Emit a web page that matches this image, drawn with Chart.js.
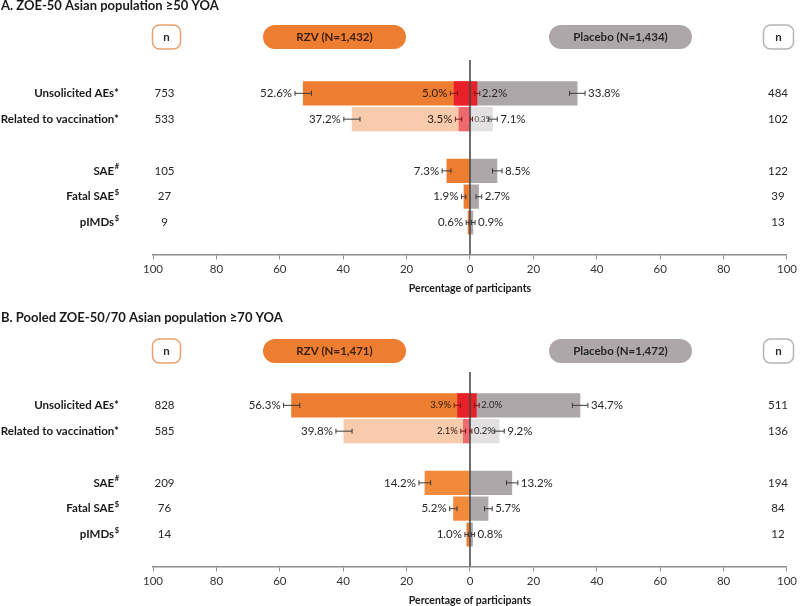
<!DOCTYPE html>
<html>
<head>
<meta charset="utf-8">
<script src="https://cdn.jsdelivr.net/npm/chart.js@4.4.0/dist/chart.umd.min.js"></script>
<style>
    html, body { margin: 0; padding: 0; background: #fff; overflow: hidden; }
    #wrap { position: relative; width: 800px; height: 606px; }
    canvas { position: absolute; left: 0; }
    #chartA { top: 0; }
    #chartB { top: 312px; }
</style>
</head>
<body>
<div id="wrap">
    <canvas id="chartA" width="800" height="312"></canvas>
    <canvas id="chartB" width="800" height="294"></canvas>
</div>
<script>
// rows of both panels (the empty one is the gap between the two groups)
const categories = ['Unsolicited AEs*', 'Related to vaccination*', '', 'SAE#', 'Fatal SAE$', 'pIMDs$'];
const axisTitle = 'Percentage of participants';

// panel A: ZOE-50, >=50 YOA
const aTitle = 'A. ZOE-50 Asian population \u226550 YOA';
const aRzvHeader = 'RZV (N=1,432)';
const aPlaHeader = 'Placebo (N=1,434)';
const aRzvN = [753, 533, null, 105, 27, 9];
const aPlaN = [484, 102, null, 122, 39, 13];
const aRzvPct = [52.6, 37.2, null, 7.3, 1.9, 0.6];
const aRzvLo = [50.0, 34.7, null, 6.0, 1.3, 0.3];
const aRzvHi = [55.2, 39.8, null, 8.8, 2.7, 1.2];
const aPlaPct = [33.8, 7.1, null, 8.5, 2.7, 0.9];
const aPlaLo = [31.4, 5.8, null, 7.1, 1.9, 0.5];
const aPlaHi = [36.3, 8.6, null, 10.1, 3.7, 1.6];
// grade 3 part
const aRzvG3 = [5.0, 3.5, null, null, null, null];
const aRzvG3Lo = [3.9, 2.6, null, null, null, null];
const aRzvG3Hi = [6.2, 4.6, null, null, null, null];
const aPlaG3 = [2.2, 0.3, null, null, null, null];
const aPlaG3Lo = [1.5, 0.1, null, null, null, null];
const aPlaG3Hi = [3.1, 0.8, null, null, null, null];

// panel B: pooled ZOE-50/70, >=70 YOA
const bTitle = 'B. Pooled ZOE-50/70 Asian population \u226570 YOA';
const bRzvHeader = 'RZV (N=1,471)';
const bPlaHeader = 'Placebo (N=1,472)';
const bRzvN = [828, 585, null, 209, 76, 14];
const bPlaN = [511, 136, null, 194, 84, 12];
const bRzvPct = [56.3, 39.8, null, 14.2, 5.2, 1.0];
const bRzvLo = [53.7, 37.2, null, 12.4, 4.1, 0.5];
const bRzvHi = [58.8, 42.3, null, 16.1, 6.4, 1.6];
const bPlaPct = [34.7, 9.2, null, 13.2, 5.7, 0.8];
const bPlaLo = [32.3, 7.8, null, 11.5, 4.6, 0.4];
const bPlaHi = [37.2, 10.8, null, 15.1, 7.0, 1.4];
const bRzvG3 = [3.9, 2.1, null, null, null, null];
const bRzvG3Lo = [3.0, 1.4, null, null, null, null];
const bRzvG3Hi = [5.0, 2.9, null, null, null, null];
const bPlaG3 = [2.0, 0.2, null, null, null, null];
const bPlaG3Lo = [1.4, 0.0, null, null, null, null];
const bPlaG3Hi = [2.9, 0.6, null, null, null, null];

const FONT = "Lato, 'Open Sans', sans-serif";
Chart.defaults.font.family = FONT;

const ORANGE = '#ED7D31';
const GREY = '#ADA7A9';

function roundRect(ctx, x, y, w, h, r) {
    ctx.beginPath();
    ctx.moveTo(x + r, y);
    ctx.lineTo(x + w - r, y);
    ctx.arc(x + w - r, y + r, r, -Math.PI / 2, 0);
    ctx.lineTo(x + w, y + h - r);
    ctx.arc(x + w - r, y + h - r, r, 0, Math.PI / 2);
    ctx.lineTo(x + r, y + h);
    ctx.arc(x + r, y + h - r, r, Math.PI / 2, Math.PI);
    ctx.lineTo(x, y + r);
    ctx.arc(x + r, y + r, r, Math.PI, Math.PI * 1.5);
    ctx.closePath();
}

function whisker(ctx, x1, x2, y, color) {
    ctx.save();
    ctx.strokeStyle = color;
    ctx.lineWidth = 1;
    ctx.beginPath();
    ctx.moveTo(x1, y); ctx.lineTo(x2, y);
    ctx.moveTo(x1, y - 2.5); ctx.lineTo(x1, y + 2.5);
    ctx.moveTo(x2, y - 2.5); ctx.lineTo(x2, y + 2.5);
    ctx.stroke();
    ctx.restore();
}

function toPoints(values, sign) {
    const pts = [];
    values.forEach((v, i) => {
        if (v !== null) pts.push({ y: i, x: sign * v });
    });
    return pts;
}

function makeChart(canvasId, panel) {
    const overlay = {
        id: 'overlay',
        afterDatasetsDraw(chart) {
            const ctx = chart.ctx;
            const xs = chart.scales.x;
            const ys = chart.scales.y;
            const area = chart.chartArea;
            const x0 = xs.getPixelForValue(0);

            // zero line over the bars
            ctx.save();
            ctx.strokeStyle = '#3f3f3f';
            ctx.lineWidth = 1.5;
            ctx.beginPath();
            ctx.moveTo(x0, area.top);
            ctx.lineTo(x0, area.bottom);
            ctx.stroke();
            ctx.restore();

            ctx.save();
            ctx.textBaseline = 'middle';
            categories.forEach((c, i) => {
                if (panel.rzvPct[i] === null) return;
                const y = ys.getPixelForValue(i);

                // all events
                whisker(ctx, xs.getPixelForValue(-panel.rzvLo[i]), xs.getPixelForValue(-panel.rzvHi[i]), y, '#3a3a3a');
                whisker(ctx, xs.getPixelForValue(panel.plaLo[i]), xs.getPixelForValue(panel.plaHi[i]), y, '#3a3a3a');
                ctx.fillStyle = '#262626';
                ctx.font = '11.5px ' + FONT;
                ctx.textAlign = 'right';
                ctx.fillText(panel.rzvPct[i].toFixed(1) + '%', xs.getPixelForValue(-panel.rzvHi[i]) - 3, y);
                ctx.textAlign = 'left';
                ctx.fillText(panel.plaPct[i].toFixed(1) + '%', xs.getPixelForValue(panel.plaHi[i]) + 3, y);

                // grade 3 events
                if (panel.rzvG3[i] !== null) {
                    whisker(ctx, xs.getPixelForValue(-panel.rzvG3Lo[i]), xs.getPixelForValue(-panel.rzvG3Hi[i]), y, '#7a1a1a');
                    whisker(ctx, xs.getPixelForValue(panel.plaG3Lo[i]), xs.getPixelForValue(panel.plaG3Hi[i]), y, '#7a1a1a');
                    ctx.fillStyle = '#2a1a10';
                    ctx.font = panel.g3RzvSize[i] + 'px ' + FONT;
                    ctx.textAlign = 'right';
                    ctx.fillText(panel.rzvG3[i].toFixed(1) + '%', xs.getPixelForValue(-panel.rzvG3Hi[i]) - 3, y);
                    ctx.font = panel.g3PlaSize[i] + 'px ' + FONT;
                    ctx.fillStyle = panel.g3PlaSize[i] < 9 ? '#555' : '#262626';
                    ctx.textAlign = 'left';
                    ctx.fillText(panel.plaG3[i].toFixed(1) + '%', xs.getPixelForValue(panel.plaG3Hi[i]) + 2, y);
                }
            });
            ctx.restore();
        },
        afterDraw(chart) {
            const ctx = chart.ctx;
            const xs = chart.scales.x;
            const ys = chart.scales.y;
            const area = chart.chartArea;
            ctx.save();
            ctx.textBaseline = 'middle';

            // panel title
            ctx.fillStyle = '#1a1a1a';
            ctx.font = 'bold 13px ' + FONT;
            ctx.textAlign = 'left';
            ctx.fillText(panel.title, 1, 6);

            // header pills
            const py = panel.pillY;
            roundRect(ctx, 152.5, py - 12, 28, 24, 7);
            ctx.fillStyle = '#fff';
            ctx.fill();
            ctx.strokeStyle = '#E8A070';
            ctx.lineWidth = 1.5;
            ctx.stroke();
            roundRect(ctx, 763.5, py - 12, 30, 24, 7);
            ctx.fill();
            ctx.strokeStyle = '#B5B5B5';
            ctx.stroke();
            roundRect(ctx, 263, py - 12, 143, 24, 12);
            ctx.fillStyle = ORANGE;
            ctx.fill();
            roundRect(ctx, 549, py - 12, 143, 24, 12);
            ctx.fillStyle = GREY;
            ctx.fill();

            ctx.textAlign = 'center';
            ctx.font = 'bold 11.5px ' + FONT;
            ctx.fillStyle = '#2b2b2b';
            ctx.fillText('n', 166.5, py);
            ctx.fillText('n', 778.5, py);
            ctx.fillStyle = '#3a1e0a';
            ctx.fillText(panel.rzvHeader, 334.5, py);
            ctx.fillStyle = '#262626';
            ctx.fillText(panel.plaHeader, 620.5, py);

            // row labels and n columns
            categories.forEach((c, i) => {
                if (!c) return;
                const y = ys.getPixelForValue(i);
                let main = c;
                let sup = '';
                if (c.endsWith('#') || c.endsWith('$')) {
                    main = c.slice(0, -1);
                    sup = c.slice(-1);
                }
                ctx.fillStyle = '#1a1a1a';
                ctx.textAlign = 'right';
                let right = 119;
                if (sup) {
                    ctx.font = 'bold 7.5px ' + FONT;
                    ctx.fillText(sup, right, y - 4);
                    right -= ctx.measureText(sup).width + 0.5;
                }
                ctx.font = 'bold 11.5px ' + FONT;
                ctx.fillText(main, right, y);

                ctx.font = '11.5px ' + FONT;
                ctx.fillStyle = '#262626';
                ctx.textAlign = 'center';
                ctx.fillText(String(panel.rzvN[i]), 164.5, y);
                ctx.fillText(String(panel.plaN[i]), 778, y);
            });

            // axis title
            ctx.fillStyle = '#1a1a1a';
            ctx.font = 'bold 10.5px ' + FONT;
            ctx.textAlign = 'center';
            ctx.fillText(axisTitle, xs.getPixelForValue(0), area.bottom + 34);
            ctx.restore();
        }
    };

    const el = document.getElementById(canvasId);
    return new Chart(el.getContext('2d'), {
        type: 'bar',
        data: {
            datasets: [
                {
                    label: 'RZV grade 3',
                    data: toPoints(panel.rzvG3, -1),
                    backgroundColor: c => panel.rzvG3Colors[c.raw.y],
                    order: 0
                },
                {
                    label: 'Placebo grade 3',
                    data: toPoints(panel.plaG3, 1),
                    backgroundColor: c => panel.plaG3Colors[c.raw.y],
                    order: 0
                },
                {
                    label: 'RZV',
                    data: toPoints(panel.rzvPct, -1),
                    backgroundColor: c => panel.rzvColors[c.raw.y],
                    order: 1
                },
                {
                    label: 'Placebo',
                    data: toPoints(panel.plaPct, 1),
                    backgroundColor: c => panel.plaColors[c.raw.y],
                    order: 1
                }
            ]
        },
        options: {
            indexAxis: 'y',
            responsive: false,
            animation: false,
            grouped: false,
            barThickness: 23.5,
            borderWidth: 0,
            layout: {
                padding: { left: 153, right: 10, top: 60, bottom: panel.height - 254.3 - 30 }
            },
            plugins: {
                legend: { display: false },
                tooltip: { enabled: false },
                title: { display: false }
            },
            scales: {
                x: {
                    type: 'linear',
                    min: -100,
                    max: 100,
                    afterFit: s => { s.height = 30; },
                    ticks: {
                        stepSize: 20,
                        padding: 3,
                        color: '#333',
                        font: { size: 11.5 },
                        callback: v => Math.abs(v)
                    },
                    grid: {
                        color: 'rgba(0,0,0,0)',
                        tickColor: '#8c8c8c',
                        tickLength: 5,
                        tickWidth: 1
                    },
                    border: { color: '#8c8c8c', width: 1.5 }
                },
                y: {
                    type: 'linear',
                    reverse: true,
                    min: -0.82,
                    max: 5.76,
                    display: false
                }
            }
        },
        plugins: [overlay]
    });
}

makeChart('chartA', {
    height: 312, pillY: 37,
    title: aTitle, rzvHeader: aRzvHeader, plaHeader: aPlaHeader,
    rzvN: aRzvN, plaN: aPlaN,
    rzvPct: aRzvPct, rzvLo: aRzvLo, rzvHi: aRzvHi,
    plaPct: aPlaPct, plaLo: aPlaLo, plaHi: aPlaHi,
    rzvG3: aRzvG3, rzvG3Lo: aRzvG3Lo, rzvG3Hi: aRzvG3Hi,
    plaG3: aPlaG3, plaG3Lo: aPlaG3Lo, plaG3Hi: aPlaG3Hi,
    g3RzvSize: [11.5, 11.5], g3PlaSize: [11.5, 8],
    rzvColors: [ORANGE, '#F8CBAD', null, ORANGE, ORANGE, ORANGE],
    plaColors: [GREY, '#E2E0E1', null, GREY, GREY, GREY],
    rzvG3Colors: ['#E8202A', '#EE6A6E'],
    plaG3Colors: ['#E8202A', '#D9D7D8']
});

makeChart('chartB', {
    height: 294, pillY: 39,
    title: bTitle, rzvHeader: bRzvHeader, plaHeader: bPlaHeader,
    rzvN: bRzvN, plaN: bPlaN,
    rzvPct: bRzvPct, rzvLo: bRzvLo, rzvHi: bRzvHi,
    plaPct: bPlaPct, plaLo: bPlaLo, plaHi: bPlaHi,
    rzvG3: bRzvG3, rzvG3Lo: bRzvG3Lo, rzvG3Hi: bRzvG3Hi,
    plaG3: bPlaG3, plaG3Lo: bPlaG3Lo, plaG3Hi: bPlaG3Hi,
    g3RzvSize: [9.5, 9.5], g3PlaSize: [9.5, 9.5],
    rzvColors: [ORANGE, '#F8CBAD', null, '#F28A3C', '#F28A3C', ORANGE],
    plaColors: [GREY, '#E2E0E1', null, GREY, GREY, GREY],
    rzvG3Colors: ['#E8202A', '#EE6A6E'],
    plaG3Colors: ['#E8202A', '#D9D7D8']
});
</script>
</body>
</html>
